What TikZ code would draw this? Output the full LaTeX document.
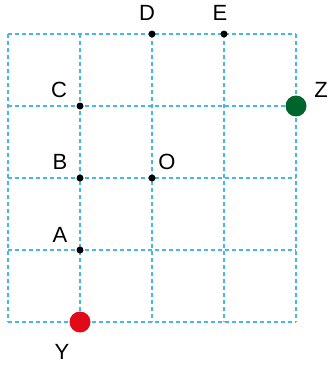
\documentclass[tikz,border=0pt]{standalone}
\usepackage{fontspec}
\setmainfont{Liberation Sans}
\definecolor{gridc}{RGB}{70,185,225}
\definecolor{redc}{RGB}{225,10,25}
\definecolor{greenc}{RGB}{0,100,45}
\begin{document}
\begin{tikzpicture}[x=1pt,y=-1pt,
  gridline/.style={gridc,line width=1.1pt,dash pattern=on 4pt off 3pt},
  dot/.style={circle,fill=black,inner sep=0pt,minimum size=7pt},
  bigdot/.style={circle,inner sep=0pt,minimum size=21pt},
  lab/.style={font=\fontsize{22}{22}\selectfont,inner sep=0pt}]
\useasboundingbox (0,0) rectangle (330,367);
\foreach \x in {8,80,152,224,296} \draw[gridline] (\x,34) -- (\x,322);
\foreach \y in {34,106,178,250,322} \draw[gridline] (8,\y) -- (296,\y);
\node[dot] (D) at (152,34) {};
\node[dot] (E) at (224,34) {};
\node[dot] (C) at (80,106) {};
\node[dot] (B) at (80,178) {};
\node[dot] (O) at (152,178) {};
\node[dot] (A) at (80,250) {};
\node[bigdot,fill=redc] (Y) at (80,322) {};
\node[bigdot,fill=greenc] (Z) at (296,106) {};
\node[lab] (lD) at (147,13) {D};
\node[lab] (lE) at (220,13) {E};
\node[lab] (lC) at (59,90) {C};
\node[lab] (lB) at (60,162) {B};
\node[lab] (lO) at (167,162) {O};
\node[lab] (lA) at (60,235) {A};
\node[lab] (lY) at (62,352) {Y};
\node[lab] (lZ) at (321,90) {Z};
\end{tikzpicture}
\end{document}
